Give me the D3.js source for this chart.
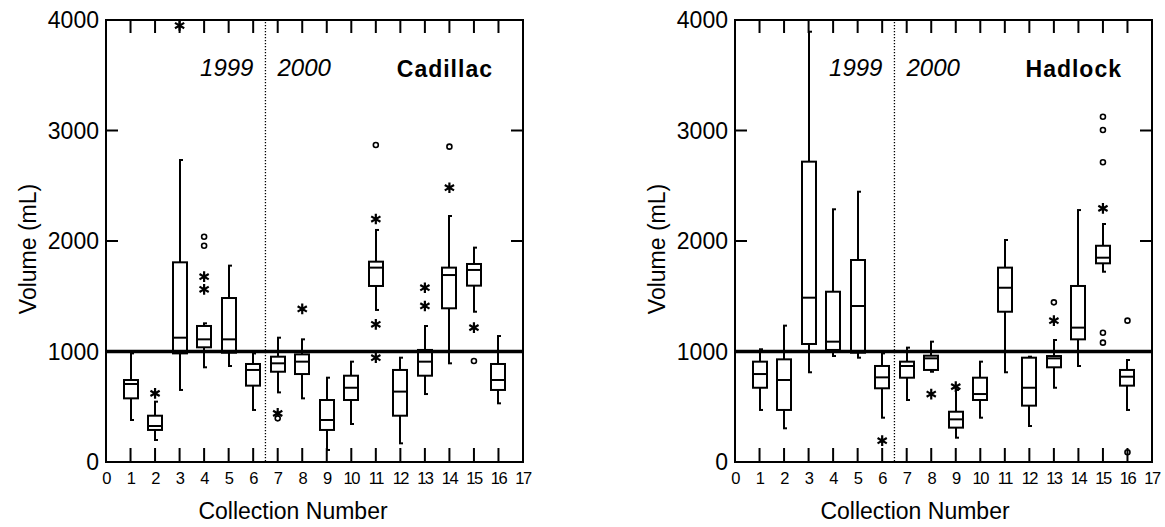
<!DOCTYPE html>
<html>
<head>
<meta charset="utf-8">
<script src="https://cdn.jsdelivr.net/npm/d3@7"></script>
<style>
  body { margin: 0; background: #fff; }
  text { font-family: "Liberation Sans", Arial, sans-serif; fill: #000; }
</style>
</head>
<body>
<div id="chart"></div>
<script>
// collection numbers (x categories)
var collections = [1, 2, 3, 4, 5, 6, 7, 8, 9, 10, 11, 12, 13, 14, 15, 16];
var xTicks = [1, 2, 3, 4, 5, 6, 7, 8, 9, 10, 11, 12, 13, 14, 15, 16];
var xLabels = [0, 1, 2, 3, 4, 5, 6, 7, 8, 9, 10, 11, 12, 13, 14, 15, 16, 17];
var yLabels = [0, 1000, 2000, 3000, 4000];

// Cadillac
var cadLow  = [380, 199, 652, 857, 869, 471, 630, 576, 109, 344, 1376, 169, 615, 893, 1360, 531];
var cadQ1   = [576, 290, 983, 1038, 989, 691, 817, 796, 290, 561, 1593, 419, 781, 1391, 1596, 652];
var cadMed  = [706, 326, 1125, 1110, 1110, 833, 893, 908, 380, 672, 1759, 637, 908, 1692, 1738, 742];
var cadQ3   = [742, 419, 1807, 1231, 1484, 887, 953, 974, 561, 781, 1813, 833, 1014, 1759, 1792, 887];
var cadHigh = [983, 546, 2733, 1255, 1777, 983, 1125, 1110, 763, 908, 2100, 944, 1231, 2226, 1940, 1140];
var cadStars = [[2, 621], [3, 3950], [4, 1677], [4, 1563], [7, 440], [8, 1385],
                [11, 2199], [11, 1246], [11, 944], [13, 1577], [13, 1412], [14, 2482], [15, 1216]];
var cadCircles = [[4, 2039], [4, 1957], [7, 395], [11, 2869], [14, 2854], [15, 914]];

// Hadlock
var hadLow  = [471, 305, 812, 959, 944, 401, 561, 817, 220, 401, 812, 326, 672, 869, 1722, 471];
var hadQ1   = [672, 471, 1068, 1014, 989, 667, 763, 833, 311, 561, 1360, 510, 857, 1110, 1798, 691];
var hadMed  = [796, 742, 1487, 1089, 1412, 766, 869, 938, 386, 615, 1577, 672, 938, 1216, 1849, 772];
var hadQ3   = [908, 929, 2718, 1541, 1828, 869, 908, 962, 455, 763, 1759, 944, 959, 1593, 1957, 833];
var hadHigh = [1020, 1234, 3894, 2287, 2446, 983, 1035, 1089, 652, 908, 2009, 953, 1104, 2280, 2154, 923];
var hadStars = [[6, 193], [8, 615], [9, 682], [13, 1279], [15, 2295]];
var hadCircles = [[13, 1445], [15, 3125], [15, 3005], [15, 2712], [15, 1170], [15, 1080], [16, 1279], [16, 88]];

var svg = d3.select('#chart').append('svg')
    .attr('width', 1165)
    .attr('height', 527);

svg.append('rect').attr('width', 1165).attr('height', 527).attr('fill', '#fff');

function drawPanel(opt) {
  var x = d3.scaleLinear().domain([0, 17]).range([opt.left, opt.right]);
  var y = d3.scaleLinear().domain([0, 4000]).range([462, 20]);
  var g = svg.append('g');
  var bw = 14;

  // reference line at 1000 mL
  g.append('line')
      .attr('x1', x(0)).attr('x2', x(17))
      .attr('y1', y(1000)).attr('y2', y(1000))
      .attr('stroke', '#000').attr('stroke-width', 3.5);

  // year divider
  g.append('line')
      .attr('x1', x(6.5)).attr('x2', x(6.5))
      .attr('y1', y(4000) + 2).attr('y2', y(0))
      .attr('stroke', '#000').attr('stroke-width', 1.3)
      .attr('stroke-dasharray', '1.3,1.7');

  // boxes
  collections.forEach(function (c, i) {
    var cx = Math.round(x(c));
    g.append('line')
        .attr('x1', cx).attr('x2', cx)
        .attr('y1', y(opt.high[i])).attr('y2', y(opt.q3[i]))
        .attr('stroke', '#000').attr('stroke-width', 2);
    g.append('line')
        .attr('x1', cx).attr('x2', cx)
        .attr('y1', y(opt.q1[i])).attr('y2', y(opt.low[i]))
        .attr('stroke', '#000').attr('stroke-width', 2);
    [opt.high[i], opt.low[i]].forEach(function (v) {
      g.append('line')
          .attr('x1', cx - 1).attr('x2', cx + 3)
          .attr('y1', y(v)).attr('y2', y(v))
          .attr('stroke', '#000').attr('stroke-width', 2);
    });
    g.append('rect')
        .attr('x', cx - bw / 2).attr('width', bw)
        .attr('y', y(opt.q3[i]))
        .attr('height', y(opt.q1[i]) - y(opt.q3[i]))
        .attr('fill', 'none').attr('stroke', '#000').attr('stroke-width', 2);
    g.append('line')
        .attr('x1', cx - bw / 2).attr('x2', cx + bw / 2)
        .attr('y1', y(opt.med[i])).attr('y2', y(opt.med[i]))
        .attr('stroke', '#000').attr('stroke-width', 2);
  });

  // outliers
  var star = d3.symbol().type(d3.symbolAsterisk).size(80);
  g.selectAll('path.star').data(opt.stars).enter().append('path')
      .attr('class', 'star')
      .attr('d', star)
      .attr('transform', function (d) { return 'translate(' + x(d[0]) + ',' + y(d[1]) + ')'; })
      .attr('fill', 'none').attr('stroke', '#000').attr('stroke-width', 2.2);
  g.selectAll('circle.out').data(opt.circles).enter().append('circle')
      .attr('class', 'out')
      .attr('cx', function (d) { return x(d[0]); })
      .attr('cy', function (d) { return y(d[1]); })
      .attr('r', 2.5)
      .attr('fill', '#fff').attr('stroke', '#000').attr('stroke-width', 1.6);

  // frame
  g.append('rect')
      .attr('x', x(0)).attr('y', y(4000))
      .attr('width', x(17) - x(0)).attr('height', y(0) - y(4000))
      .attr('fill', 'none').attr('stroke', '#000').attr('stroke-width', 2);

  // inward ticks
  xTicks.forEach(function (t) {
    g.append('line').attr('x1', x(t)).attr('x2', x(t))
        .attr('y1', y(0)).attr('y2', y(0) - 14)
        .attr('stroke', '#000').attr('stroke-width', 2);
    g.append('line').attr('x1', x(t)).attr('x2', x(t))
        .attr('y1', y(4000)).attr('y2', y(4000) + 13)
        .attr('stroke', '#000').attr('stroke-width', 2);
  });
  [1000, 2000, 3000].forEach(function (t) {
    g.append('line').attr('x1', x(0)).attr('x2', x(0) + 12)
        .attr('y1', y(t)).attr('y2', y(t))
        .attr('stroke', '#000').attr('stroke-width', 2);
    g.append('line').attr('x1', x(17)).attr('x2', x(17) - 12)
        .attr('y1', y(t)).attr('y2', y(t))
        .attr('stroke', '#000').attr('stroke-width', 2);
  });

  // tick labels
  g.selectAll('text.xl').data(xLabels).enter().append('text')
      .attr('class', 'xl')
      .attr('x', function (d) { return x(d); })
      .attr('y', 484)
      .attr('text-anchor', 'middle')
      .attr('font-size', '16.5px')
      .attr('letter-spacing', '-1.5px')
      .text(function (d) { return d; });
  g.selectAll('text.yl').data(yLabels).enter().append('text')
      .attr('class', 'yl')
      .attr('x', x(0) - 7)
      .attr('y', function (d) { return y(d) + 8; })
      .attr('text-anchor', 'end')
      .attr('font-size', '23px')
      .text(function (d) { return d; });

  // axis titles
  g.append('text')
      .attr('x', opt.xTitle).attr('y', 519)
      .attr('text-anchor', 'middle')
      .attr('font-size', '23px')
      .text('Collection Number');
  g.append('text')
      .attr('transform', 'translate(' + (x(0) - 70) + ',249) rotate(-90)')
      .attr('text-anchor', 'middle')
      .attr('font-size', '23px')
      .text('Volume (mL)');

  // annotations
  g.append('text')
      .attr('x', x(6.5) - 12).attr('y', 76)
      .attr('text-anchor', 'end')
      .attr('font-size', '24px').attr('font-style', 'italic')
      .text('1999');
  g.append('text')
      .attr('x', x(6.5) + 12).attr('y', 76)
      .attr('font-size', '24px').attr('font-style', 'italic')
      .text('2000');
  g.append('text')
      .attr('x', x(17) - 30).attr('y', 77)
      .attr('text-anchor', 'end')
      .attr('font-size', '23px').attr('font-weight', 'bold')
      .attr('letter-spacing', '1px')
      .text(opt.name);
}

drawPanel({ name: 'Cadillac', left: 106, right: 523, xTitle: 293,
  low: cadLow, q1: cadQ1, med: cadMed, q3: cadQ3, high: cadHigh,
  stars: cadStars, circles: cadCircles });
drawPanel({ name: 'Hadlock', left: 735, right: 1152, xTitle: 915,
  low: hadLow, q1: hadQ1, med: hadMed, q3: hadQ3, high: hadHigh,
  stars: hadStars, circles: hadCircles });
</script>
</body>
</html>
